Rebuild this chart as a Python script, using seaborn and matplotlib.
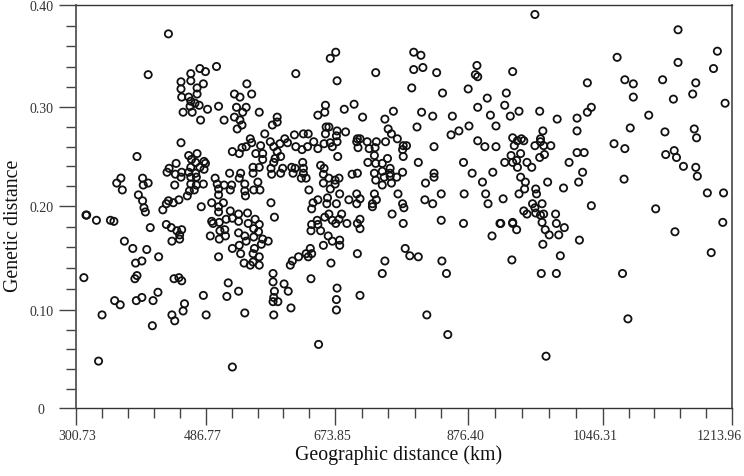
import numpy as np
import matplotlib
matplotlib.use("Agg")
import matplotlib.pyplot as plt
from matplotlib.transforms import ScaledTranslation
import seaborn as sns

# tick labels printed on the axes
x_tick_km = [300.73, 486.77, 673.85, 876.40, 1046.31, 1213.96]
x_tick_lab = ["300.73", "486.77", "673.85", "876.40", "1046.31", "1213.96"]
y_tick_val = [0, 0.10, 0.20, 0.30, 0.40]
y_tick_lab = ["0", "0.10", "0.20", "0.30", "0.40"]

# the printed axes are a bit uneven, spacing of the labelled ticks
x_tick_pos = [0, 130, 259, 391.7, 526.7, 656]
y_tick_pos = [0, 98.3, 202.6, 301, 403]

# labels do not sit centred on their ticks in the original (inches)
x_lab_shift = [0.01, -0.03, -0.03, -0.02, -0.07, -0.13]

# points, left part
km_left = [433,404,502,478,486,465,451,465,483,474,451,474,452,462,465,471,477,464,489,454,467,479,505,546,
           528,536,531,545,540,528,536,539,532,513,451,388,551,545,539,525,535,474,462,466,444,472,484,486,
           434,465,478,484,431,443,452,462,472,521,537,365,396,500,359,404,397,451,465,473,535,503,442,465,
           473,483,513,524,543,367,522,505,470,463,543,390,460,505,544,396,398,400,425,430,440,448,433,480,
           495,505,512,505,522,534,547,315,316,330,350,355,495,497,506,516,525,534,548,407,430,437,445,452,
           449,449,438,507,514,493,506,515,534,543,545,370,382,402,535,525,537,419,395,386,505,542,312,388,
           385,441,448,452,519,418,534,483,517,356,364,387,395,411,456,454,543,487,338,438,442,410,333,525]
gd_left = [.372,.332,.340,.338,.335,.333,.325,.326,.323,.319,.318,.313,.310,.310,.306,.304,.302,.301,.298,.295,.295,.287,.301,.323,
           .313,.310,.300,.300,.295,.290,.287,.282,.278,.287,.264,.250,.268,.260,.259,.255,.253,.253,.251,.247,.243,.244,.245,.243,
           .238,.239,.239,.237,.234,.232,.234,.234,.233,.233,.233,.228,.228,.228,.223,.223,.221,.229,.229,.229,.228,.222,.221,.222,
           .221,.222,.221,.221,.222,.216,.216,.217,.216,.215,.215,.211,.210,.211,.210,.205,.198,.194,.196,.202,.203,.206,.205,.199,
           .203,.199,.203,.194,.195,.192,.193,.191,.191,.186,.186,.185,.185,.183,.184,.187,.188,.185,.183,.179,.182,.179,.176,.177,
           .172,.168,.166,.176,.177,.171,.168,.171,.174,.171,.166,.166,.159,.158,.162,.159,.154,.151,.147,.145,.151,.145,.131,.133,
           .130,.130,.131,.128,.126,.117,.118,.114,.113,.109,.105,.109,.112,.109,.106,.099,.097,.095,.095,.095,.089,.084,.048,.042]

# middle part, upper half
km_mid_up = [794,805,675,667,617,736,794,808,829,677,791,838,877,888,886,889,901,553,660,659,649,688,703,716,
             564,763,806,823,853,889,905,750,590,590,583,665,661,799,878,912,755,760,851,863,572,677,690,660,
             615,628,635,769,889,898,912,553,601,605,594,580,566,585,617,626,634,643,649,658,667,670,677,676,
             708,712,707,709,723,737,751,726,735,778,783,777,825,590,559,569,734,754,778,678,595,587,569,870,
             801,724,736,746,627,585,653,658,611,616,628,581,598,564,555,758,734,746,758,777,700,708,882,908,
             555,582,595,613,628,657,665,680,825,825,749,736,758,768,632,625,674,812,895,562,657,674,746,760,
             636,565,556,667,681,836,871,899,770,734,707,663]
gd_mid_up = [.354,.351,.354,.348,.333,.334,.337,.339,.334,.326,.319,.314,.318,.341,.332,.330,.309,.313,.302,.295,.292,.298,.303,.290,
             .295,.296,.295,.291,.291,.300,.292,.288,.290,.285,.282,.280,.280,.280,.281,.281,.278,.273,.272,.276,.273,.276,.275,.273,
             .272,.273,.273,.268,.266,.260,.260,.264,.268,.264,.263,.265,.261,.260,.260,.257,.260,.265,.258,.263,.264,.260,.265,.271,
             .268,.268,.265,.259,.265,.265,.265,.258,.259,.261,.261,.257,.260,.255,.253,.253,.251,.248,.250,.250,.250,.248,.247,.244,
             .244,.244,.243,.243,.244,.244,.241,.238,.239,.238,.238,.238,.238,.239,.239,.238,.233,.235,.233,.234,.232,.233,.233,.234,
             .233,.232,.233,.233,.233,.232,.228,.228,.233,.229,.229,.226,.230,.229,.228,.228,.226,.223,.224,.224,.223,.222,.221,.223,
             .216,.216,.216,.217,.212,.212,.212,.212,.212,.212,.212,.208]

# middle part, lower half
km_mid_low = [581,640,642,649,662,676,695,707,712,731,731,737,777,779,811,823,902,761,836,870,778,917,907,586,
              558,564,556,563,556,569,577,567,557,555,564,555,564,551,665,659,684,680,670,675,692,712,708,712,
              648,640,649,639,653,664,670,681,681,657,638,632,640,635,621,612,609,708,668,750,781,788,801,837,
              844,746,584,584,600,606,586,639,677,585,584,591,676,712,610,676,585,814,846,650]
gd_mid_low = [.203,.197,.203,.206,.202,.202,.206,.202,.207,.199,.202,.206,.202,.198,.206,.202,.202,.192,.186,.183,.183,.183,.171,.189,
              .187,.182,.178,.175,.170,.168,.166,.163,.159,.154,.151,.146,.143,.143,.192,.189,.192,.187,.186,.183,.183,.187,.183,.178,
              .186,.182,.182,.176,.176,.171,.166,.167,.162,.162,.159,.154,.154,.151,.151,.147,.143,.154,.145,.147,.159,.152,.151,.147,
              .135,.135,.135,.127,.125,.118,.118,.130,.121,.112,.108,.108,.110,.114,.102,.100,.095,.095,.075,.065]

# right part
km_right = [961,1144,1195,1065,1144,1190,933,1075,1086,1124,1167,1027,925,1163,1086,1138,1205,923,1032,1027,941,967,1106,930,
            989,1014,1082,1165,1014,971,1127,1168,933,944,968,947,939,968,935,961,972,981,1061,1075,1139,943,1014,1023,
            973,967,931,1128,1142,938,923,933,951,1004,957,939,1151,1167,1021,1169,943,1074,977,1016,949,948,962,997,
            941,963,1182,1203,921,958,970,1032,1115,947,961,962,951,972,987,968,970,988,918,933,933,938,998,974,
            979,991,1017,971,993,932,969,988,1072,1079,975,1202,1140,1187]
gd_right = [.391,.376,.355,.349,.344,.338,.335,.327,.323,.327,.324,.324,.314,.313,.310,.308,.304,.302,.300,.295,.296,.296,.292,.291,
            .288,.289,.279,.278,.276,.276,.275,.269,.269,.268,.268,.266,.266,.265,.261,.261,.261,.261,.263,.258,.256,.253,.254,.254,
            .252,.249,.251,.252,.249,.246,.244,.244,.244,.244,.239,.239,.240,.239,.234,.230,.229,.227,.224,.224,.224,.217,.217,.218,
            .212,.212,.213,.213,.207,.202,.202,.200,.197,.195,.198,.193,.192,.192,.192,.191,.184,.183,.183,.184,.183,.177,.179,.177,
            .172,.172,.167,.163,.152,.148,.135,.135,.135,.091,.053,.184,.175,.155]

geo_km = km_left + km_mid_up + km_mid_low + km_right
gen_dist = gd_left + gd_mid_up + gd_mid_low + gd_right

sns.set_style("white")
plt.rcParams['font.family'] = ['Liberation Serif', 'DejaVu Serif']

fig = plt.figure(figsize=(7.44, 4.77), dpi=100)
ax = fig.add_axes([76/744, 1 - 409.3/477, 656/744, 403/477])

sns.scatterplot(x=geo_km, y=gen_dist, ax=ax, s=27, facecolor='none',
                edgecolor='#111111', linewidth=1.3, legend=False)

ax.set_xscale('function', functions=(lambda v: np.interp(v, x_tick_km, x_tick_pos),
                                     lambda p: np.interp(p, x_tick_pos, x_tick_km)))
ax.set_yscale('function', functions=(lambda v: np.interp(v, y_tick_val, y_tick_pos),
                                     lambda p: np.interp(p, y_tick_pos, y_tick_val)))
ax.set_xlim(x_tick_km[0], x_tick_km[-1])
ax.set_ylim(0, 0.40)

ax.set_xticks(x_tick_km, labels=x_tick_lab)
ax.set_yticks(y_tick_val, labels=y_tick_lab)

# 4 small ticks between two labelled ones
x_minor = []
for a, b in zip(x_tick_km[:-1], x_tick_km[1:]):
    x_minor += list(np.linspace(a, b, 6)[1:-1])
y_minor = []
for a, b in zip(y_tick_val[:-1], y_tick_val[1:]):
    y_minor += list(np.linspace(a, b, 6)[1:-1])
ax.set_xticks(x_minor, minor=True)
ax.set_yticks(y_minor, minor=True)

ax.tick_params(axis='both', which='major', length=12.5, width=1.0, color='#444444',
               labelcolor='#333333', labelsize=10, bottom=True, left=True)
ax.tick_params(axis='both', which='minor', length=7.5, width=1.0, color='#444444',
               bottom=True, left=True)
ax.tick_params(axis='x', which='major', pad=2.5)
ax.tick_params(axis='y', which='major', pad=3.5)
ax.yaxis.get_major_ticks()[0].set_pad(10)

for tick, dx in zip(ax.xaxis.get_major_ticks(), x_lab_shift):
    lab = tick.label1
    lab.set_transform(lab.get_transform() + ScaledTranslation(dx, 0, fig.dpi_scale_trans))

for name, spine in ax.spines.items():
    spine.set_visible(True)
    spine.set_color('#555555' if name in ('left', 'right') else '#333333')
    spine.set_linewidth(1.3 if name in ('left', 'right') else 1.0)

ax.set_xlabel("Geographic distance (km)", fontsize=14.3, color='#111111', va='center')
ax.set_ylabel("Genetic distance", fontsize=14.3, color='#111111', va='center')
ax.xaxis.set_label_coords(0.491, -0.113)
ax.yaxis.set_label_coords(-0.095, 0.455)

fig.savefig("out.png", dpi=100, facecolor='white')
